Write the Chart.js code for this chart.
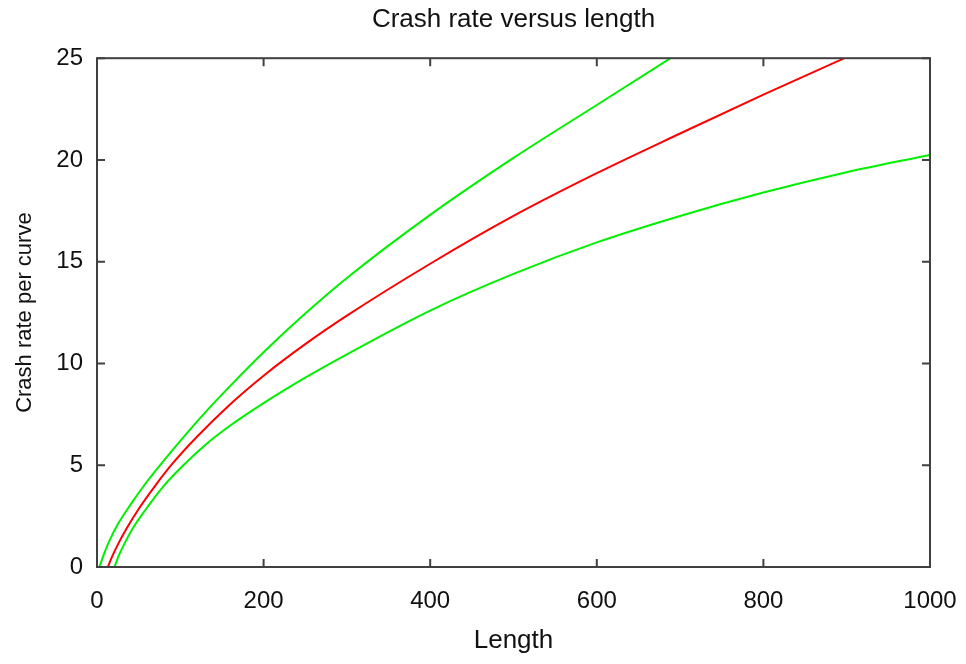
<!DOCTYPE html>
<html>
<head>
<meta charset="utf-8">
<title>Crash rate versus length</title>
<script src="https://cdn.jsdelivr.net/npm/chart.js@4"></script>
<style>
    html, body { margin: 0; padding: 0; background: #ffffff; }
    #wrap { width: 966px; height: 664px; }
</style>
</head>
<body>
<div id="wrap"><canvas id="crashChart" width="966" height="664"></canvas></div>
<script>
// Valori (lunghezza -> tasso di incidenti)
const upperLength = [3, 8, 15, 25, 40, 60, 80, 100, 130, 160, 200, 250, 300, 400, 500, 600, 700];
const upperRate   = [0, 0.6, 1.3, 2.1, 3.05, 4.2, 5.22, 6.2, 7.6, 8.9, 10.55, 12.45, 14.2, 17.3, 20.1, 22.7, 25.3];

const fitLength = [13, 18, 25, 35, 50, 70, 90, 120, 160, 200, 250, 300, 400, 500, 600, 700, 800, 900, 950];
const fitRate   = [0, 0.5, 1.1, 1.85, 2.85, 4.0, 5.05, 6.4, 8.0, 9.4, 10.95, 12.35, 14.9, 17.25, 19.35, 21.3, 23.21, 25.05, 25.95];

const lowerLength = [21, 26, 33, 43, 58, 78, 100, 130, 160, 200, 250, 300, 400, 500, 600, 700, 800, 900, 1000];
const lowerRate   = [0, 0.55, 1.15, 1.9, 2.8, 3.88, 4.85, 6.0, 6.95, 8.05, 9.3, 10.45, 12.6, 14.4, 15.95, 17.25, 18.4, 19.4, 20.25];

const xTicks = [0, 200, 400, 600, 800, 1000];
const yTicks = [0, 5, 10, 15, 20, 25];

const FONT = "'Liberation Sans', Arial, sans-serif";
const TICK_LEN = 8;

function toPoints(xs, ys) {
    return xs.map((v, i) => ({ x: v, y: ys[i] }));
}

// cornice e tacche interne su tutti e quattro i lati
const frameTicks = {
    id: 'frameTicks',
    afterDatasetsDraw(chart) {
        const { ctx, chartArea: a, scales: { x, y } } = chart;
        ctx.save();
        ctx.strokeStyle = '#404040';
        ctx.lineWidth = 2;
        ctx.beginPath();
        xTicks.forEach(v => {
            const px = x.getPixelForValue(v);
            ctx.moveTo(px, a.bottom);
            ctx.lineTo(px, a.bottom - TICK_LEN);
            ctx.moveTo(px, a.top);
            ctx.lineTo(px, a.top + TICK_LEN);
        });
        yTicks.forEach(v => {
            const py = y.getPixelForValue(v);
            ctx.moveTo(a.left, py);
            ctx.lineTo(a.left + TICK_LEN, py);
            ctx.moveTo(a.right, py);
            ctx.lineTo(a.right - TICK_LEN, py);
        });
        ctx.stroke();
        ctx.strokeRect(a.left, a.top, a.right - a.left, a.bottom - a.top);
        ctx.restore();
    }
};

function lineDataset(label, xs, ys, color) {
    return {
        label: label,
        data: toPoints(xs, ys),
        showLine: true,
        borderColor: color,
        backgroundColor: color,
        borderWidth: 2,
        pointRadius: 0,
        cubicInterpolationMode: 'monotone',
        fill: false
    };
}

const ctx = document.getElementById('crashChart').getContext('2d');

new Chart(ctx, {
    type: 'scatter',
    data: {
        datasets: [
            lineDataset('Upper', upperLength, upperRate, '#00f000'),
            lineDataset('Fit', fitLength, fitRate, '#ff0000'),
            lineDataset('Lower', lowerLength, lowerRate, '#00f000')
        ]
    },
    options: {
        responsive: false,
        animation: false,
        layout: {
            padding: { left: 0, right: 36, top: 0, bottom: 0 }
        },
        plugins: {
            legend: { display: false },
            tooltip: { enabled: false },
            title: {
                display: true,
                fullSize: false,
                text: 'Crash rate versus length',
                color: '#111',
                font: { size: 26, family: FONT, weight: 'normal', lineHeight: 1.2 },
                padding: { top: 4, bottom: 23 }
            }
        },
        scales: {
            x: {
                type: 'linear',
                min: 0,
                max: 1000,
                afterBuildTicks(scale) {
                    scale.ticks = xTicks.map(v => ({ value: v }));
                },
                afterFit(scale) {
                    scale.height = 97;
                    scale.paddingLeft = 0;
                    scale.paddingRight = 0;
                },
                grid: { display: false, drawTicks: false },
                border: { display: false },
                ticks: {
                    color: '#111',
                    padding: 20,
                    maxRotation: 0,
                    callback: v => String(v),
                    font: { size: 24, family: FONT }
                },
                title: {
                    display: true,
                    text: 'Length',
                    color: '#111',
                    font: { size: 26, family: FONT, lineHeight: 1.2 },
                    padding: { top: 0, bottom: 8 }
                }
            },
            y: {
                type: 'linear',
                min: 0,
                max: 25,
                afterBuildTicks(scale) {
                    scale.ticks = yTicks.map(v => ({ value: v }));
                },
                afterFit(scale) {
                    scale.width = 97;
                    scale.paddingTop = 0;
                    scale.paddingBottom = 0;
                },
                grid: { display: false, drawTicks: false },
                border: { display: false },
                ticks: {
                    color: '#111',
                    padding: 14,
                    callback: v => String(v),
                    font: { size: 24, family: FONT }
                },
                title: {
                    display: true,
                    text: 'Crash rate per curve',
                    color: '#111',
                    font: { size: 22, family: FONT, lineHeight: 1.2 },
                    padding: { top: 12, bottom: 0 }
                }
            }
        }
    },
    plugins: [frameTicks]
});
</script>
</body>
</html>
